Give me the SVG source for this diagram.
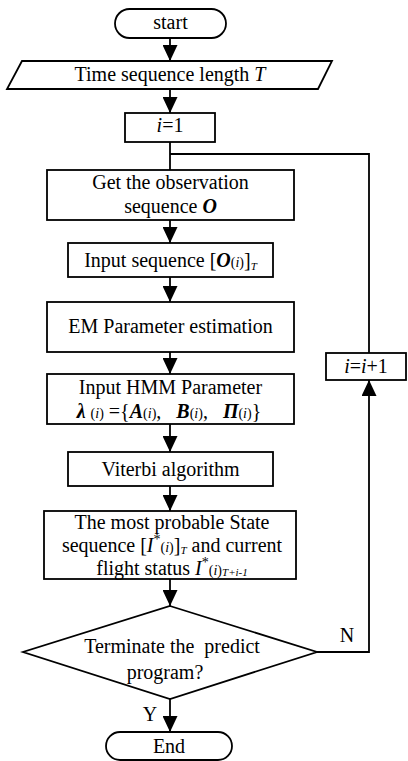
<svg xmlns="http://www.w3.org/2000/svg" width="408" height="761" viewBox="0 0 408 761">
  <style>
    .box { fill: #fff; stroke: #000; stroke-width: 1.8; }
    .ln { fill: none; stroke: #000; stroke-width: 1.8; }
    text { font-family: "Liberation Serif", "Times New Roman", serif; font-size: 20px; fill: #000; text-anchor: middle; }
    .i { font-style: italic; }
    .bi { font-style: italic; font-weight: bold; }
    .s { font-size: 14px; }
    .ss { font-size: 11px; font-style: italic; }
  </style>
  <defs>
    <marker id="arrow" markerUnits="userSpaceOnUse" markerWidth="16" markerHeight="15" refX="16" refY="7.5" orient="auto">
      <path d="M0,0 L16,7.5 L0,15 z" fill="#000"/>
    </marker>
  </defs>

  <!-- connectors -->
  <g id="connectors">
    <line class="ln" x1="170" y1="38" x2="170" y2="61" marker-end="url(#arrow)"/>
    <line class="ln" x1="170" y1="89" x2="170" y2="113" marker-end="url(#arrow)"/>
    <line class="ln" x1="170" y1="142" x2="170" y2="170"/>
    <line class="ln" x1="170" y1="220" x2="170" y2="243" marker-end="url(#arrow)"/>
    <line class="ln" x1="170" y1="277" x2="170" y2="302" marker-end="url(#arrow)"/>
    <line class="ln" x1="170" y1="352" x2="170" y2="374" marker-end="url(#arrow)"/>
    <line class="ln" x1="170" y1="424" x2="170" y2="452" marker-end="url(#arrow)"/>
    <line class="ln" x1="170" y1="486" x2="170" y2="511" marker-end="url(#arrow)"/>
    <line class="ln" x1="170" y1="579" x2="170" y2="606" marker-end="url(#arrow)"/>
    <line class="ln" x1="170" y1="699" x2="170" y2="732" marker-end="url(#arrow)"/>
    <!-- loop back: N branch up to i=i+1, then back to the top -->
    <polyline class="ln" points="317,652 369,652 369,380" marker-end="url(#arrow)"/>
    <polyline class="ln" points="369,353 369,154 170,154"/>
    <text x="347" y="642">N</text>
    <text x="150" y="721">Y</text>
  </g>

  <g id="start">
    <rect class="box" x="115" y="9" width="111" height="29" rx="14.5" ry="14.5"/>
    <text x="170.5" y="29">start</text>
  </g>

  <g id="input-length">
    <polygon class="box" points="22,61 332,61 318,89 7,89"/>
    <text x="170" y="81">Time sequence length <tspan class="i">T</tspan></text>
  </g>

  <g id="init-i">
    <rect class="box" x="125" y="113" width="90" height="29"/>
    <text x="170" y="132"><tspan class="i">i</tspan>=1</text>
  </g>

  <g id="get-observation">
    <rect class="box" x="47" y="170" width="247" height="50"/>
    <text x="170.5" y="189">Get the observation</text>
    <text x="170.5" y="213">sequence <tspan class="bi">O</tspan></text>
  </g>

  <g id="input-sequence">
    <rect class="box" x="68" y="243" width="205" height="34"/>
    <text x="170.5" y="267">Input sequence [<tspan class="bi">O</tspan><tspan class="s">(<tspan class="i">i</tspan>)</tspan>]<tspan class="ss" dy="3">T</tspan></text>
  </g>

  <g id="em-estimation">
    <rect class="box" x="47" y="302" width="247" height="50"/>
    <text x="170.5" y="333">EM Parameter estimation</text>
  </g>

  <g id="hmm-parameter">
    <rect class="box" x="47" y="374" width="247" height="50"/>
    <text x="170.5" y="394">Input HMM Parameter</text>
    <text x="169" y="418"><tspan class="bi">λ</tspan> <tspan class="s">(<tspan class="i">i</tspan>)</tspan> ={<tspan class="bi">A</tspan><tspan class="s">(<tspan class="i">i</tspan>)</tspan>,&#160;&#160; <tspan class="bi">B</tspan><tspan class="s">(<tspan class="i">i</tspan>)</tspan>,&#160;&#160; <tspan class="bi">Π</tspan><tspan class="s">(<tspan class="i">i</tspan>)</tspan>}</text>
  </g>

  <g id="viterbi">
    <rect class="box" x="68" y="452" width="205" height="34"/>
    <text x="170.5" y="476">Viterbi algorithm</text>
  </g>

  <g id="state-sequence">
    <rect class="box" x="44" y="511" width="252" height="68"/>
    <text x="172" y="529">The most probable State</text>
    <text x="172" y="552">sequence [<tspan class="i">I</tspan><tspan class="s" dy="-8">*</tspan><tspan class="s" dy="8">(<tspan class="i">i</tspan>)</tspan>]<tspan class="ss" dy="2">T</tspan><tspan dy="-2"> and current</tspan></text>
    <text x="172" y="575">flight status <tspan class="i">I</tspan><tspan class="s" dy="-8">*</tspan><tspan class="s" dy="8">(<tspan class="i">i</tspan>)</tspan><tspan class="ss" dy="1">T+i-1</tspan></text>
  </g>

  <g id="terminate">
    <polygon class="box" points="170,606 317,652 170,699 23,652"/>
    <text x="172" y="653">Terminate the&#160; predict</text>
    <text x="165" y="679">program?</text>
  </g>

  <g id="increment-i">
    <rect class="box" x="326" y="353" width="80" height="27"/>
    <text x="366" y="373"><tspan class="i">i</tspan>=<tspan class="i">i</tspan>+1</text>
  </g>

  <g id="end">
    <rect class="box" x="106" y="732" width="126" height="28" rx="14" ry="14"/>
    <text x="169" y="753">End</text>
  </g>
</svg>
